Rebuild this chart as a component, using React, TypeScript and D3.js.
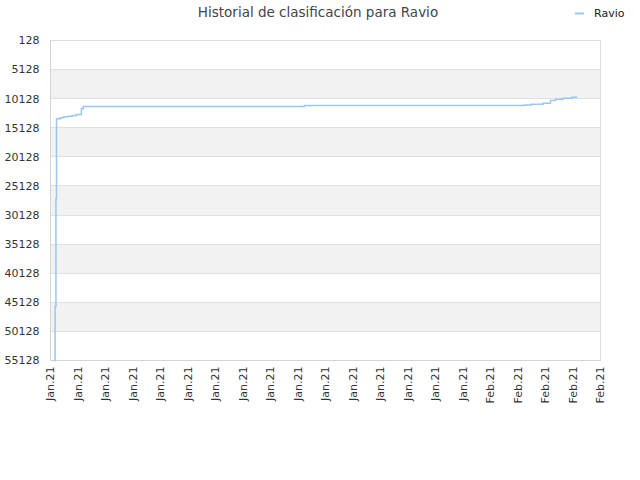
import { useEffect, useRef } from 'react'
import * as d3 from 'd3'

// rank history (lower = better), times in UTC
const times = [
  '2021-01-01T06:30', '2021-01-01T08:00', '2021-01-01T09:30', '2021-01-01T10:30',
  '2021-01-01T17:30', '2021-01-01T23:15', '2021-01-02T07:00', '2021-01-02T14:00',
  '2021-01-02T21:20', '2021-01-03T06:00', '2021-01-03T09:00', '2021-01-19T11:15',
  '2021-02-04T11:15', '2021-02-04T23:30', '2021-02-05T20:00', '2021-02-06T08:40',
  '2021-02-06T17:30', '2021-02-07T07:00', '2021-02-07T22:30', '2021-02-08T07:30',
]
const ranks = [
  55128, 45847, 27284, 13586,
  13414, 13242, 13139, 13019,
  12847, 11867, 11472, 11300,
  11200, 11076, 10905, 10440,
  10217, 10045, 9873, 9873,
]
const seriesName = 'Ravio'
const title = 'Historial de clasificación para Ravio'
const yTicks = [128, 5128, 10128, 15128, 20128, 25128, 30128, 35128, 40128, 45128, 50128, 55128]
const xStart = '2021-01-01'
const xEnd = '2021-02-10'

export default function App() {
  const ref = useRef<SVGSVGElement>(null)

  useEffect(() => {
    if (!ref.current) return
    const svg = d3.select(ref.current)
    svg.selectAll('*').remove()

    const width = 640
    const height = 480
    const margin = { top: 40.5, right: 39.5, bottom: 119.5, left: 50.5 }
    const innerW = width - margin.left - margin.right
    const innerH = height - margin.top - margin.bottom
    const font = '"DejaVu Sans", sans-serif'

    const parse = d3.utcParse('%Y-%m-%dT%H:%M')
    const parseDay = d3.utcParse('%Y-%m-%d')
    const data = times.map((t, i) => ({ date: parse(t)!, rank: ranks[i] }))
    const d0 = parseDay(xStart)!
    const d1 = parseDay(xEnd)!

    const x = d3.scaleUtc().domain([d0, d1]).range([0, innerW])
    const y = d3.scaleLinear().domain([yTicks[0], yTicks[yTicks.length - 1]]).range([0, innerH])
    const xTickVals = d3.utcDay.range(d0, d3.utcDay.offset(d1, 1), 2)
    const fmt = d3.utcFormat('%b.%y')

    const g = svg.append('g').attr('transform', `translate(${margin.left},${margin.top})`)

    // alternating bands
    for (let i = 1; i < yTicks.length - 1; i += 2) {
      g.append('rect')
        .attr('x', 0)
        .attr('y', y(yTicks[i]))
        .attr('width', innerW)
        .attr('height', y(yTicks[i + 1]) - y(yTicks[i]))
        .attr('fill', '#f2f2f2')
    }

    // grid lines
    g.selectAll('.grid')
      .data(yTicks)
      .enter()
      .append('line')
      .attr('x1', 0)
      .attr('x2', innerW)
      .attr('y1', (d) => Math.round(y(d)))
      .attr('y2', (d) => Math.round(y(d)))
      .attr('stroke', '#e0e0e0')
      .attr('stroke-width', 1)

    // frame
    g.append('rect')
      .attr('width', innerW)
      .attr('height', innerH)
      .attr('fill', 'none')
      .attr('stroke', '#dddddd')
    g.append('line').attr('x1', 0).attr('x2', 0).attr('y1', 0).attr('y2', innerH).attr('stroke', '#d4d4d4')
    g.append('line').attr('x1', 0).attr('x2', innerW).attr('y1', innerH).attr('y2', innerH).attr('stroke', '#d4d4d4')

    // y labels
    g.selectAll('.ylab')
      .data(yTicks)
      .enter()
      .append('text')
      .attr('x', -11)
      .attr('y', (d) => y(d))
      .attr('dy', '0.35em')
      .attr('text-anchor', 'end')
      .style('font-family', font)
      .style('font-size', '11px')
      .style('fill', '#333')
      .text((d) => String(d))

    // x labels
    g.selectAll('.xlab')
      .data(xTickVals)
      .enter()
      .append('text')
      .attr('transform', (d) => `translate(${x(d)},${innerH + 6}) rotate(-90)`)
      .attr('dy', '0.35em')
      .attr('text-anchor', 'end')
      .style('font-family', font)
      .style('font-size', '11px')
      .style('fill', '#333')
      .text((d) => fmt(d))

    // line
    const line = d3
      .line<{ date: Date; rank: number }>()
      .x((d) => x(d.date))
      .y((d) => y(d.rank))
      .curve(d3.curveStepAfter)

    g.append('path')
      .datum(data)
      .attr('d', line)
      .attr('fill', 'none')
      .attr('stroke', '#99c6f3')
      .attr('stroke-width', 1.5)

    // title
    svg.append('text')
      .attr('x', 318)
      .attr('y', 17)
      .attr('text-anchor', 'middle')
      .style('font-family', font)
      .style('font-size', '13.5px')
      .style('fill', '#444')
      .text(title)

    // legend
    svg.append('line')
      .attr('x1', 575)
      .attr('x2', 584)
      .attr('y1', 13.5)
      .attr('y2', 13.5)
      .attr('stroke', '#99c6f3')
      .attr('stroke-width', 2)
    svg.append('text')
      .attr('x', 594)
      .attr('y', 17)
      .style('font-family', font)
      .style('font-size', '11px')
      .style('fill', '#222')
      .text(seriesName)
  }, [])

  return (
    <div style={{ position: 'fixed', left: 0, top: 0 }}>
      <svg ref={ref} width={640} height={480} style={{ display: 'block', background: '#fff' }} />
    </div>
  )
}
